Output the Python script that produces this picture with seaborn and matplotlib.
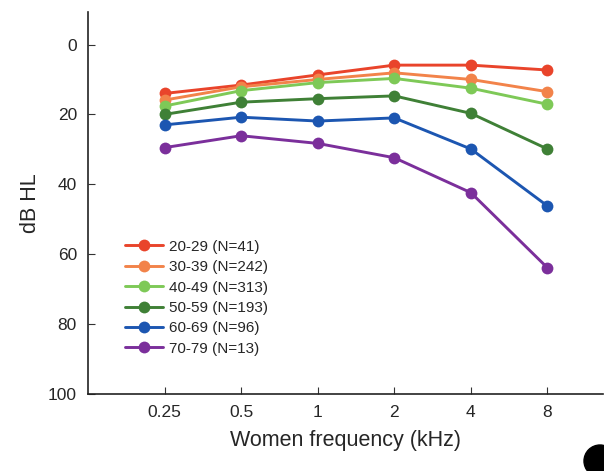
import pandas as pd
import seaborn as sns
import matplotlib.pyplot as plt
from matplotlib.patches import Circle

sns.set_style('white')
plt.rcParams['font.family'] = ['Liberation Sans', 'DejaVu Sans']

freqs = ['0.25', '0.5', '1', '2', '4', '8']
groups = ['20-29 (N=41)', '30-39 (N=242)', '40-49 (N=313)',
          '50-59 (N=193)', '60-69 (N=96)', '70-79 (N=13)']
db_20s = [14.0, 11.6, 8.7, 5.9, 5.9, 7.3]
db_30s = [15.9, 12.1, 10.0, 8.1, 10.0, 13.5]
db_40s = [17.6, 13.2, 10.9, 9.7, 12.5, 17.1]
db_50s = [20.0, 16.5, 15.5, 14.7, 19.7, 29.9]
db_60s = [23.0, 20.8, 21.9, 21.0, 29.9, 46.2]
db_70s = [29.5, 26.1, 28.3, 32.4, 42.4, 63.9]
colors = ['#e9442b', '#f2834a', '#7ec957', '#3f8036', '#1c56b1', '#7b2f9b']

df = pd.DataFrame({
    'freq': freqs * 6,
    'group': [g for g in groups for _ in freqs],
    'dB': db_20s + db_30s + db_40s + db_50s + db_60s + db_70s,
})

fig = plt.figure(figsize=(6.04, 4.71), dpi=100)
ax = fig.add_axes([0.1457, 0.1635, 0.852, 0.811])
sns.lineplot(data=df, x='freq', y='dB', hue='group', palette=colors, ax=ax,
             marker='o', markersize=8.5, markeredgewidth=0, linewidth=2.1,
             sort=False)

ax.set_xlim(-1, 5.72)
ax.set_ylim(100, -9.3)
ax.set_yticks([0, 20, 40, 60, 80, 100])
ax.tick_params(axis='both', direction='in', length=5, width=0.8, labelsize=12.5,
               color='#333333', pad=8, bottom=True, left=True)
for s in ['top', 'right']:
    ax.spines[s].set_visible(False)
for s in ['left', 'bottom']:
    ax.spines[s].set_color('#222222')
    ax.spines[s].set_linewidth(1.2)
ax.set_xlabel('Women frequency (kHz)', fontsize=15.5, labelpad=7)
ax.set_ylabel('dB HL', fontsize=15.5, labelpad=5)

ax.legend(loc='upper left', bbox_to_anchor=(0.045, 0.44), frameon=False,
          fontsize=11, handlelength=2.5, labelspacing=0.42, handletextpad=0.4)

fig.patches.append(Circle((6.0, 0.10), 0.16, transform=fig.dpi_scale_trans,
                          color='black', clip_on=False))

fig.savefig('out.png', dpi=100)
